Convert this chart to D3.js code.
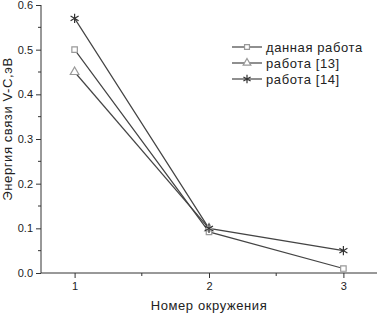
<!DOCTYPE html>
<html>
<head>
<meta charset="utf-8">
<script src="https://cdn.jsdelivr.net/npm/d3@7"></script>
<style>
  body { margin: 0; background: #fff; }
  svg text { font-family: "Liberation Sans", Arial, sans-serif; fill: #222; }
</style>
</head>
<body>
<svg width="377" height="316"></svg>
<script>
// данные
var xValues = [1, 2, 3];
var series = ["данная работа", "работа [13]", "работа [14]"];
var dannaya = [0.5, 0.092, 0.01];
var rabota13 = [0.45, 0.1];
var rabota14 = [0.57, 0.1, 0.05];
var yTicks = [0.0, 0.1, 0.2, 0.3, 0.4, 0.5, 0.6];

var svg = d3.select("svg");

var x = d3.scaleLinear().domain([0.75, 3.25]).range([41, 377]);
var y = d3.scaleLinear().domain([0, 0.6]).range([273, 5]);

// оси
var yAxis = d3.axisLeft(y).tickValues(yTicks).tickFormat(d3.format(".1f")).tickSize(5).tickPadding(3);
var gy = svg.append("g").attr("transform", "translate(41,0)").call(yAxis);
gy.select(".domain").attr("d", "M0," + y(0) + "V" + y(0.6));
// малые деления
gy.selectAll(".minor").data(d3.range(0.05, 0.6, 0.1)).enter().append("line")
  .attr("x1", -3).attr("x2", 0)
  .attr("y1", function(d) { return y(d); }).attr("y2", function(d) { return y(d); })
  .attr("stroke", "#333");

var xAxis = d3.axisBottom(x).tickValues(xValues).tickFormat(d3.format("d")).tickSize(5).tickPadding(4);
var gx = svg.append("g").attr("transform", "translate(0," + y(0) + ")").call(xAxis);
gx.select(".domain").attr("d", "M41,0H377");
gx.selectAll(".minor").data([1.5, 2.5]).enter().append("line")
  .attr("x1", function(d) { return x(d); }).attr("x2", function(d) { return x(d); })
  .attr("y1", 0).attr("y2", 3).attr("stroke", "#333");

svg.selectAll(".tick text").style("font-size", "11px").attr("fill", "#222");
svg.selectAll(".domain, .tick line").attr("stroke", "#333");

// подписи осей
svg.append("text").attr("x", x(2)).attr("y", 310).attr("text-anchor", "middle")
  .style("font-size", "13px").style("letter-spacing", "0.6px").text("Номер окружения");
svg.append("text").attr("transform", "translate(12,129) rotate(-90)").attr("text-anchor", "middle")
  .style("font-size", "13px").style("letter-spacing", "0.6px").text("Энергия связи V-C,эВ");

// линии
var line = d3.line().x(function(d, i) { return x(xValues[i]); }).y(function(d) { return y(d); });
var allData = [dannaya, rabota13, rabota14];
var markerTypes = [d3.symbolSquare, d3.symbolTriangle, d3.symbolAsterisk];
var markerSizes = [30, 32, 60];
var markerColors = ["#999", "#999", "#333"];

allData.forEach(function(vals, k) {
  svg.append("path").datum(vals)
    .attr("d", line).attr("fill", "none").attr("stroke", "#444").attr("stroke-width", 1.2);
});
allData.forEach(function(vals, k) {
  svg.selectAll(".m" + k).data(vals).enter().append("path")
    .attr("transform", function(d, i) { return "translate(" + x(xValues[i]) + "," + y(d) + ")"; })
    .attr("d", d3.symbol().type(markerTypes[k]).size(markerSizes[k]))
    .attr("fill", k == 2 ? "none" : "#fff")
    .attr("stroke", markerColors[k]).attr("stroke-width", 1.2);
});

// легенда
var legend = svg.append("g").attr("transform", "translate(232,47)");
series.forEach(function(name, k) {
  var g = legend.append("g").attr("transform", "translate(0," + (k * 16) + ")");
  g.append("line").attr("x1", 0).attr("x2", 30).attr("y1", 0).attr("y2", 0)
    .attr("stroke", "#444").attr("stroke-width", 1.2);
  g.append("path").attr("transform", "translate(15,0)")
    .attr("d", d3.symbol().type(markerTypes[k]).size(markerSizes[k] * 0.8))
    .attr("fill", k == 2 ? "none" : "#fff").attr("stroke", markerColors[k]).attr("stroke-width", 1.2);
  g.append("text").attr("x", 34).attr("y", 4.5).style("font-size", "13px")
    .style("letter-spacing", "0.6px").text(name);
});
</script>
</body>
</html>
